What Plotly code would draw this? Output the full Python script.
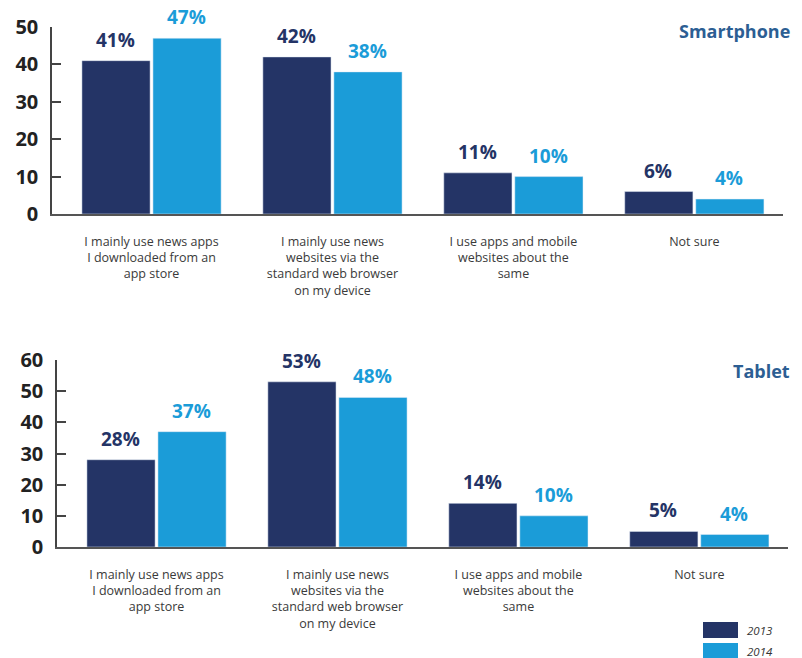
import plotly.graph_objects as go

categories = [
    "I mainly use news apps<br>I downloaded from an<br>app store",
    "I mainly use news<br>websites via the<br>standard web browser<br>on my device",
    "I use apps and mobile<br>websites about the<br>same",
    "Not sure",
]
years = ["2013", "2014"]
smartphone_2013 = [41, 42, 11, 6]
smartphone_2014 = [47, 38, 10, 4]
tablet_2013 = [28, 53, 14, 5]
tablet_2014 = [37, 48, 10, 4]
panel_titles = ["Smartphone", "Tablet"]
smartphone_ticks = [0, 10, 20, 30, 40, 50]
tablet_ticks = [0, 10, 20, 30, 40, 50, 60]

DARK = "#243466"
LIGHT = "#1b9cd8"
TITLE_C = "#2c5e93"
W, H = 802, 658

def px_x(x):
    return x / W

def px_y(y):
    return 1 - y / H

fig = go.Figure()

panels = [
    ("x", "y", smartphone_2013, smartphone_2014),
    ("x2", "y2", tablet_2013, tablet_2014),
]
xs = list(range(len(categories)))
for xa, ya, v13, v14 in panels:
    fig.add_trace(go.Bar(x=xs, y=v13, name=years[0], marker_color=DARK,
                         xaxis=xa, yaxis=ya, showlegend=False))
    fig.add_trace(go.Bar(x=xs, y=v14, name=years[1], marker_color=LIGHT,
                         xaxis=xa, yaxis=ya, showlegend=False))

annotations = []
for xa, ya, v13, v14 in panels:
    for i in xs:
        for vals, col, shift in ((v13, DARK, -36), (v14, LIGHT, 35)):
            annotations.append(dict(
                x=i, y=vals[i], xref=xa, yref=ya, text=f"{vals[i]}%",
                showarrow=False, xshift=shift, yanchor="bottom", yshift=6,
                font=dict(family="Open Sans", size=19, color=col, weight=700)))

# panel titles
annotations.append(dict(x=px_x(792), y=px_y(31), xref="paper", yref="paper",
                        text=panel_titles[0], showarrow=False, xanchor="right",
                        yanchor="middle",
                        font=dict(family="Open Sans", size=18, color=TITLE_C, weight=700)))
annotations.append(dict(x=px_x(792), y=px_y(371), xref="paper", yref="paper",
                        text=panel_titles[1], showarrow=False, xanchor="right",
                        yanchor="middle",
                        font=dict(family="Open Sans", size=18, color=TITLE_C, weight=700)))

# custom legend
shapes = []
for k, (yr, col) in enumerate(zip(years, [DARK, LIGHT])):
    y0 = 622 + k * 21
    shapes.append(dict(type="rect", xref="paper", yref="paper",
                       x0=px_x(703), x1=px_x(738), y0=px_y(y0 + 16), y1=px_y(y0),
                       fillcolor=col, line_width=0))
    annotations.append(dict(x=px_x(745), y=px_y(y0 + 8), xref="paper", yref="paper",
                            text=f"<i>{yr}</i>", showarrow=False, xanchor="left",
                            yanchor="middle",
                            font=dict(family="Open Sans", size=11.5, color="#333333")))

xaxis_common = dict(
    tickmode="array", tickvals=xs, ticktext=categories,
    range=[-0.55, 3.49], showline=True, linecolor="#555555", linewidth=1.5,
    ticks="", showgrid=False, zeroline=False, fixedrange=True,
    tickfont=dict(family="Open Sans", size=12.5, color="#3a3a3a"),
    ticklabelstandoff=15, automargin=False,
)
yaxis_common = dict(
    showline=True, linecolor="#444444", linewidth=1.5, ticks="inside",
    ticklen=9, tickcolor="#444444", tickwidth=1.5, showgrid=False,
    zeroline=False, tickmode="array", automargin=False, fixedrange=True,
    tickfont=dict(family="Open Sans", size=20, color="#222222", weight=700),
    ticklabelstandoff=8,
)

fig.update_layout(
    width=W, height=H, autosize=False,
    margin=dict(l=0, r=0, t=0, b=0, pad=0, autoexpand=False),
    paper_bgcolor="white", plot_bgcolor="white",
    barmode="group", bargap=0.215, bargroupgap=0.04,
    xaxis=dict(xaxis_common, domain=[px_x(52), px_x(783)], anchor="y"),
    yaxis=dict(yaxis_common, domain=[px_y(214), px_y(27)], range=[0, 50],
               tickvals=smartphone_ticks, anchor="x"),
    xaxis2=dict(xaxis_common, domain=[px_x(57), px_x(788)], anchor="y2"),
    yaxis2=dict(yaxis_common, domain=[px_y(547), px_y(360)], range=[0, 60],
                tickvals=tablet_ticks, anchor="x2"),
    annotations=annotations,
    shapes=shapes,
)

fig.write_html(
    "out.html",
    config={"displayModeBar": False},
    post_script="document.body.style.margin='0';document.body.style.overflow='hidden';",
)
